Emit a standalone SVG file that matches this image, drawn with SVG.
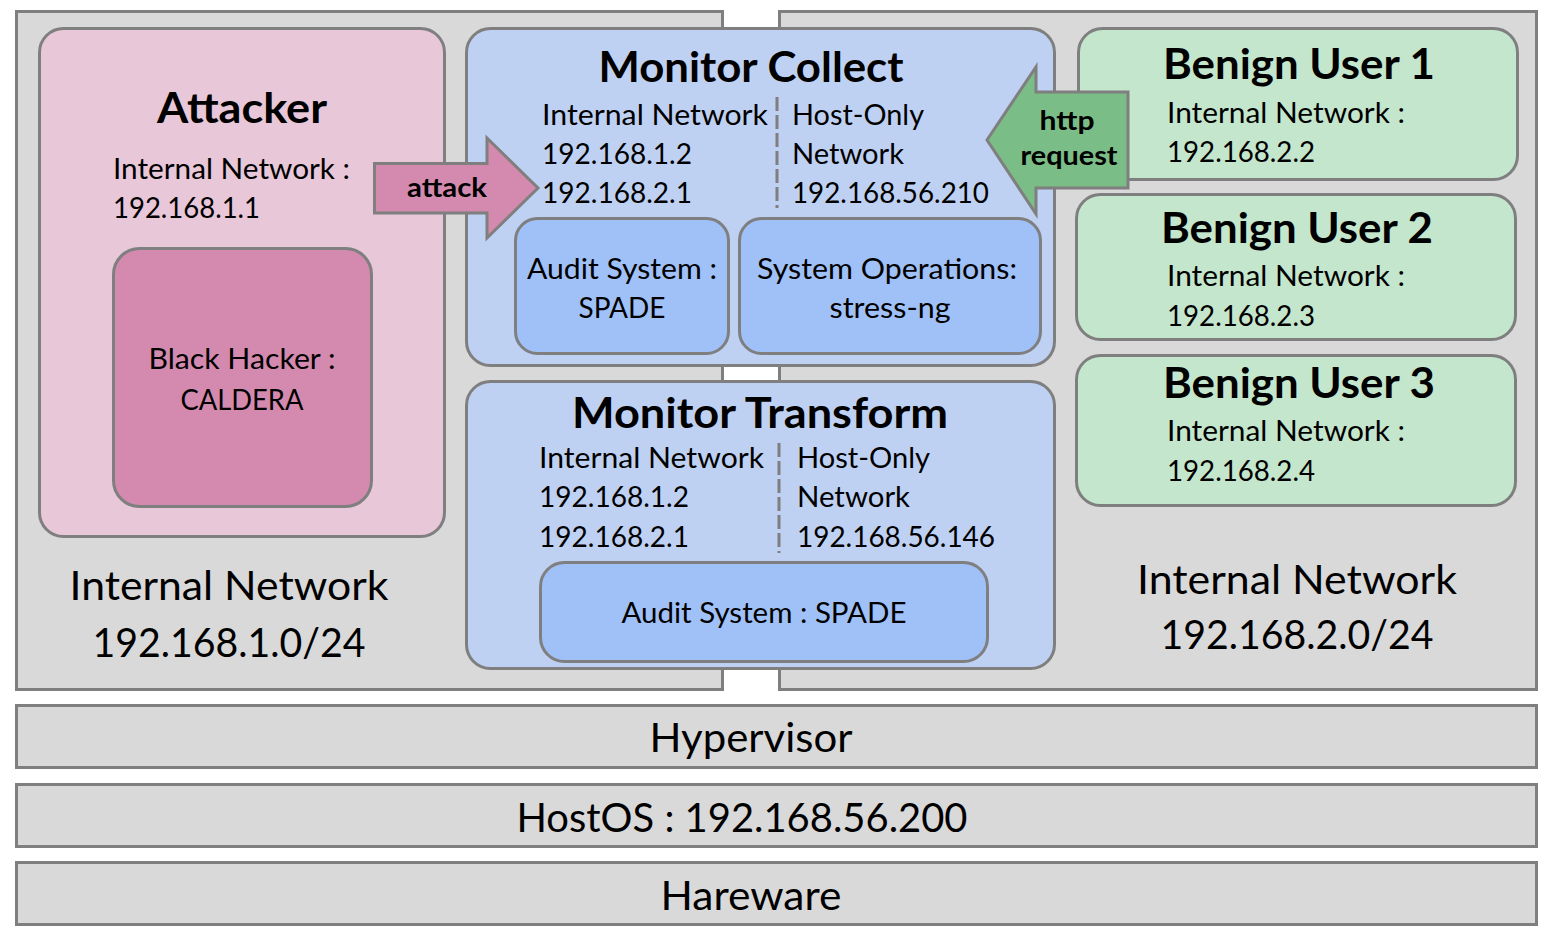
<svg xmlns="http://www.w3.org/2000/svg" width="1560" height="942" viewBox="0 0 1560 942">
<style>
.net{fill:#d9d9d9;stroke:#7f7f7f;stroke-width:3}
.box{stroke:#7f7f7f;stroke-width:3}
.pink{fill:#e8c7d8}
.hack{fill:#d48aaf}
.mon{fill:#bfd1f3}
.inner{fill:#a0c0f8}
.green{fill:#c4e6cc}
.garrow{fill:#7bbd87}
text{font-family:Lato,"Source Sans Pro","Noto Sans",sans-serif;fill:#000}
.t{font-size:29px}
.big{font-size:41px}
.title{font-size:42px;font-weight:bold}
.lbl{font-size:26px;font-weight:bold}
.mid{text-anchor:middle}
.dash{stroke:#7f7f7f;stroke-width:3;stroke-dasharray:14 4;fill:none}
</style>
<g id="net-left">
<rect class="net" x="16.5" y="11.5" width="706" height="678"/>
<text class="big mid" x="229" y="600" textLength="319" lengthAdjust="spacingAndGlyphs">Internal Network</text>
<text class="big mid" x="229" y="657" textLength="273" lengthAdjust="spacingAndGlyphs">192.168.1.0/24</text>
</g>
<g id="net-right">
<rect class="net" x="779.5" y="11.5" width="757" height="678"/>
<text class="big mid" x="1297" y="594" textLength="320" lengthAdjust="spacingAndGlyphs">Internal Network</text>
<text class="big mid" x="1297" y="649" textLength="273" lengthAdjust="spacingAndGlyphs">192.168.2.0/24</text>
</g>
<g id="hypervisor">
<rect class="net" x="16.5" y="705.5" width="1520" height="62"/>
<text class="big mid" x="751" y="752" textLength="203" lengthAdjust="spacingAndGlyphs">Hypervisor</text>
</g>
<g id="hostos">
<rect class="net" x="16.5" y="784.5" width="1520" height="62"/>
<text class="big mid" x="742" y="832" textLength="451" lengthAdjust="spacingAndGlyphs">HostOS : 192.168.56.200</text>
</g>
<g id="hardware">
<rect class="net" x="16.5" y="862.5" width="1520" height="62"/>
<text class="big mid" x="751" y="910" textLength="181" lengthAdjust="spacingAndGlyphs">Hareware</text>
</g>
<g id="attacker">
<rect class="box pink" x="39.5" y="28.5" width="405" height="508" rx="24"/>
<text class="title mid" x="242" y="123" textLength="170" lengthAdjust="spacingAndGlyphs">Attacker</text>
<text class="t" x="113" y="179" textLength="237" lengthAdjust="spacingAndGlyphs">Internal Network :</text>
<text class="t" x="113" y="218" textLength="147" lengthAdjust="spacingAndGlyphs">192.168.1.1</text>
</g>
<g id="black-hacker">
<rect class="box hack" x="113.5" y="248.5" width="258" height="258" rx="26"/>
<text class="t mid" x="242" y="369" textLength="187" lengthAdjust="spacingAndGlyphs">Black Hacker :</text>
<text class="t mid" x="242" y="410" textLength="123" lengthAdjust="spacingAndGlyphs">CALDERA</text>
</g>
<g id="monitor-collect">
<rect class="box mon" x="466.5" y="28.5" width="588" height="337" rx="24"/>
<text class="title mid" x="751" y="82" textLength="305" lengthAdjust="spacingAndGlyphs">Monitor Collect</text>
<text class="t" x="542" y="125" textLength="226" lengthAdjust="spacingAndGlyphs">Internal Network</text>
<text class="t" x="542" y="164" textLength="150" lengthAdjust="spacingAndGlyphs">192.168.1.2</text>
<text class="t" x="542" y="203" textLength="150" lengthAdjust="spacingAndGlyphs">192.168.2.1</text>
<text class="t" x="792" y="125" textLength="132" lengthAdjust="spacingAndGlyphs">Host-Only</text>
<text class="t" x="792" y="164" textLength="112" lengthAdjust="spacingAndGlyphs">Network</text>
<text class="t" x="792" y="203" textLength="197" lengthAdjust="spacingAndGlyphs">192.168.56.210</text>
<line class="dash" x1="777" y1="97" x2="777" y2="208"/>
</g>
<g id="audit-collect">
<rect class="box inner" x="515.5" y="218.5" width="213" height="135" rx="22"/>
<text class="t mid" x="622" y="279" textLength="190" lengthAdjust="spacingAndGlyphs">Audit System :</text>
<text class="t mid" x="622" y="318" textLength="87" lengthAdjust="spacingAndGlyphs">SPADE</text>
</g>
<g id="system-operations">
<rect class="box inner" x="739.5" y="218.5" width="301" height="135" rx="22"/>
<text class="t mid" x="887" y="279" textLength="260" lengthAdjust="spacingAndGlyphs">System Operations:</text>
<text class="t mid" x="890" y="318" textLength="121" lengthAdjust="spacingAndGlyphs">stress-ng</text>
</g>
<g id="monitor-transform">
<rect class="box mon" x="466.5" y="381.5" width="588" height="287" rx="24"/>
<text class="title mid" x="760" y="428" textLength="376" lengthAdjust="spacingAndGlyphs">Monitor Transform</text>
<text class="t" x="539" y="468" textLength="225" lengthAdjust="spacingAndGlyphs">Internal Network</text>
<text class="t" x="539" y="507" textLength="150" lengthAdjust="spacingAndGlyphs">192.168.1.2</text>
<text class="t" x="539" y="547" textLength="150" lengthAdjust="spacingAndGlyphs">192.168.2.1</text>
<text class="t" x="797" y="468" textLength="133" lengthAdjust="spacingAndGlyphs">Host-Only</text>
<text class="t" x="797" y="507" textLength="113" lengthAdjust="spacingAndGlyphs">Network</text>
<text class="t" x="797" y="547" textLength="198" lengthAdjust="spacingAndGlyphs">192.168.56.146</text>
<line class="dash" x1="779" y1="443" x2="779" y2="553"/>
</g>
<g id="audit-transform">
<rect class="box inner" x="540.5" y="562.5" width="447" height="99" rx="24"/>
<text class="t mid" x="764" y="623" textLength="285" lengthAdjust="spacingAndGlyphs">Audit System : SPADE</text>
</g>
<g id="benign-user-1">
<rect class="box green" x="1078.5" y="28.5" width="439" height="151" rx="24"/>
<text class="title mid" x="1299" y="79" textLength="272" lengthAdjust="spacingAndGlyphs">Benign User 1</text>
<text class="t" x="1167" y="123" textLength="238" lengthAdjust="spacingAndGlyphs">Internal Network :</text>
<text class="t" x="1167" y="162" textLength="148" lengthAdjust="spacingAndGlyphs">192.168.2.2</text>
</g>
<g id="benign-user-2">
<rect class="box green" x="1076.5" y="194.5" width="439" height="145" rx="24"/>
<text class="title mid" x="1297" y="243" textLength="272" lengthAdjust="spacingAndGlyphs">Benign User 2</text>
<text class="t" x="1167" y="286" textLength="238" lengthAdjust="spacingAndGlyphs">Internal Network :</text>
<text class="t" x="1167" y="326" textLength="148" lengthAdjust="spacingAndGlyphs">192.168.2.3</text>
</g>
<g id="benign-user-3">
<rect class="box green" x="1076.5" y="355.5" width="439" height="150" rx="24"/>
<text class="title mid" x="1299" y="398" textLength="272" lengthAdjust="spacingAndGlyphs">Benign User 3</text>
<text class="t" x="1167" y="441" textLength="238" lengthAdjust="spacingAndGlyphs">Internal Network :</text>
<text class="t" x="1167" y="481" textLength="148" lengthAdjust="spacingAndGlyphs">192.168.2.4</text>
</g>
<g id="connectors">
<g id="attack-arrow">
<polygon class="box hack" points="374.5,163.5 487,163.5 487,138 538,188 487,238 487,213 374.5,213"/>
<text class="lbl mid" x="447" y="197" textLength="80" lengthAdjust="spacingAndGlyphs">attack</text>
</g>
<g id="http-arrow">
<polygon class="box garrow" points="1128,92 1036,92 1036,67 987,140 1036,214 1036,188 1128,188"/>
<text class="lbl mid" x="1067" y="130" textLength="55" lengthAdjust="spacingAndGlyphs">http</text>
<text class="lbl mid" x="1069" y="165" textLength="97" lengthAdjust="spacingAndGlyphs">request</text>
</g>
</g>
</svg>
